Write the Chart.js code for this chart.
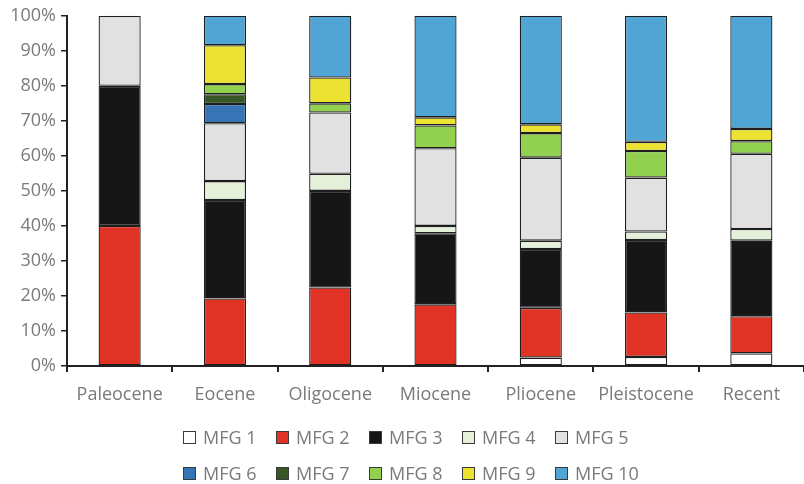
<!DOCTYPE html>
<html>
<head>
<meta charset="utf-8">
<script src="https://cdn.jsdelivr.net/npm/chart.js@4"></script>
<style>
    html, body { margin: 0; padding: 0; background: #fff; }
    #wrap { position: relative; width: 804px; height: 484px; }
    #legend {
        position: absolute; left: 183px; top: 427px;
        display: grid; grid-template-columns: repeat(5, 93px); row-gap: 16px;
        font-family: "Open Sans", sans-serif; font-size: 18px; color: #7a7a7a;
    }
    .item { display: flex; align-items: center; height: 20px; white-space: nowrap; }
    .box { width: 11px; height: 11px; border: 1px solid #3a3a3a; margin-right: 7px; }
</style>
</head>
<body>
<div id="wrap">
    <canvas id="chart" width="804" height="484"></canvas>
    <div id="legend"></div>
</div>
<script>
// Categorias (épocas)
const epochs = ['Paleocene', 'Eocene', 'Oligocene', 'Miocene', 'Pliocene', 'Pleistocene', 'Recent'];

// Percentagens (null = ausente)
const mfg1  = [null, null, null, null, 2.4, 2.6, 3.6];
const mfg2  = [40, 19.3, 22.4, 17.6, 14.2, 12.7, 10.6];
const mfg3  = [40, 28.1, 27.6, 20.3, 16.8, 20.7, 21.6];
const mfg4  = [null, 5.4, 4.9, 2.1, 2.4, 2.4, 3.3];
const mfg5  = [20, 16.5, 17.5, 22.2, 23.7, 15.4, 21.5];
const mfg6  = [null, 5.5, null, null, null, null, null];
const mfg7  = [null, 2.8, null, null, null, null, null];
const mfg8  = [null, 2.9, 2.6, 6.5, 7.0, 7.6, 3.6];
const mfg9  = [null, 11.1, 7.4, 2.3, 2.5, 2.6, 3.5];
const mfg10 = [null, 8.4, 17.6, 29.0, 31.0, 36.0, 32.3];

const yTicks = [0, 10, 20, 30, 40, 50, 60, 70, 80, 90, 100];

const series = [
    { label: 'MFG 1',  data: mfg1,  color: '#ffffff' },
    { label: 'MFG 2',  data: mfg2,  color: '#e03326' },
    { label: 'MFG 3',  data: mfg3,  color: '#161616' },
    { label: 'MFG 4',  data: mfg4,  color: '#e4f0da' },
    { label: 'MFG 5',  data: mfg5,  color: '#e1e1e1' },
    { label: 'MFG 6',  data: mfg6,  color: '#3674b5' },
    { label: 'MFG 7',  data: mfg7,  color: '#375623' },
    { label: 'MFG 8',  data: mfg8,  color: '#92d050' },
    { label: 'MFG 9',  data: mfg9,  color: '#ebe232' },
    { label: 'MFG 10', data: mfg10, color: '#51a5d4' }
];

const TEXT = '#7a7a7a';
const AXIS = '#222222';
const FONT = { family: '"Open Sans", sans-serif', size: 18 };

new Chart(document.getElementById('chart'), {
    type: 'bar',
    data: {
        labels: epochs,
        datasets: series.map(s => ({
            label: s.label,
            data: s.data,
            backgroundColor: s.color,
            borderColor: '#1e1e1e',
            borderWidth: 1.3,
            borderSkipped: false,
            barPercentage: 0.4,
            categoryPercentage: 1
        }))
    },
    options: {
        responsive: false,
        animation: false,
        layout: { padding: { top: 13, right: 0, bottom: 78, left: 0 } },
        plugins: { legend: { display: false }, tooltip: { enabled: false } },
        scales: {
            x: {
                stacked: true,
                afterFit: s => { s.height = 40; },
                border: { display: true, color: AXIS, width: 2 },
                grid: { drawOnChartArea: false, drawTicks: true, tickLength: 6, color: AXIS, lineWidth: 2, offset: true },
                ticks: { color: TEXT, font: FONT, padding: 12, maxRotation: 0 }
            },
            y: {
                stacked: true,
                min: 0,
                max: 100,
                afterFit: s => { s.width = 67; },
                afterBuildTicks: s => { s.ticks = yTicks.map(v => ({ value: v })); },
                border: { display: true, color: AXIS, width: 2 },
                grid: { drawOnChartArea: false, drawTicks: true, tickLength: 6, color: AXIS, lineWidth: 1.5 },
                ticks: { color: TEXT, font: FONT, padding: 5, callback: v => v + '%' }
            }
        }
    }
});

// Legenda em HTML (5 colunas, como no original)
const legend = document.getElementById('legend');
series.forEach(s => {
    const item = document.createElement('div');
    item.className = 'item';
    item.innerHTML = '<span class="box" style="background:' + s.color + '"></span>' + s.label;
    legend.appendChild(item);
});
</script>
</body>
</html>
